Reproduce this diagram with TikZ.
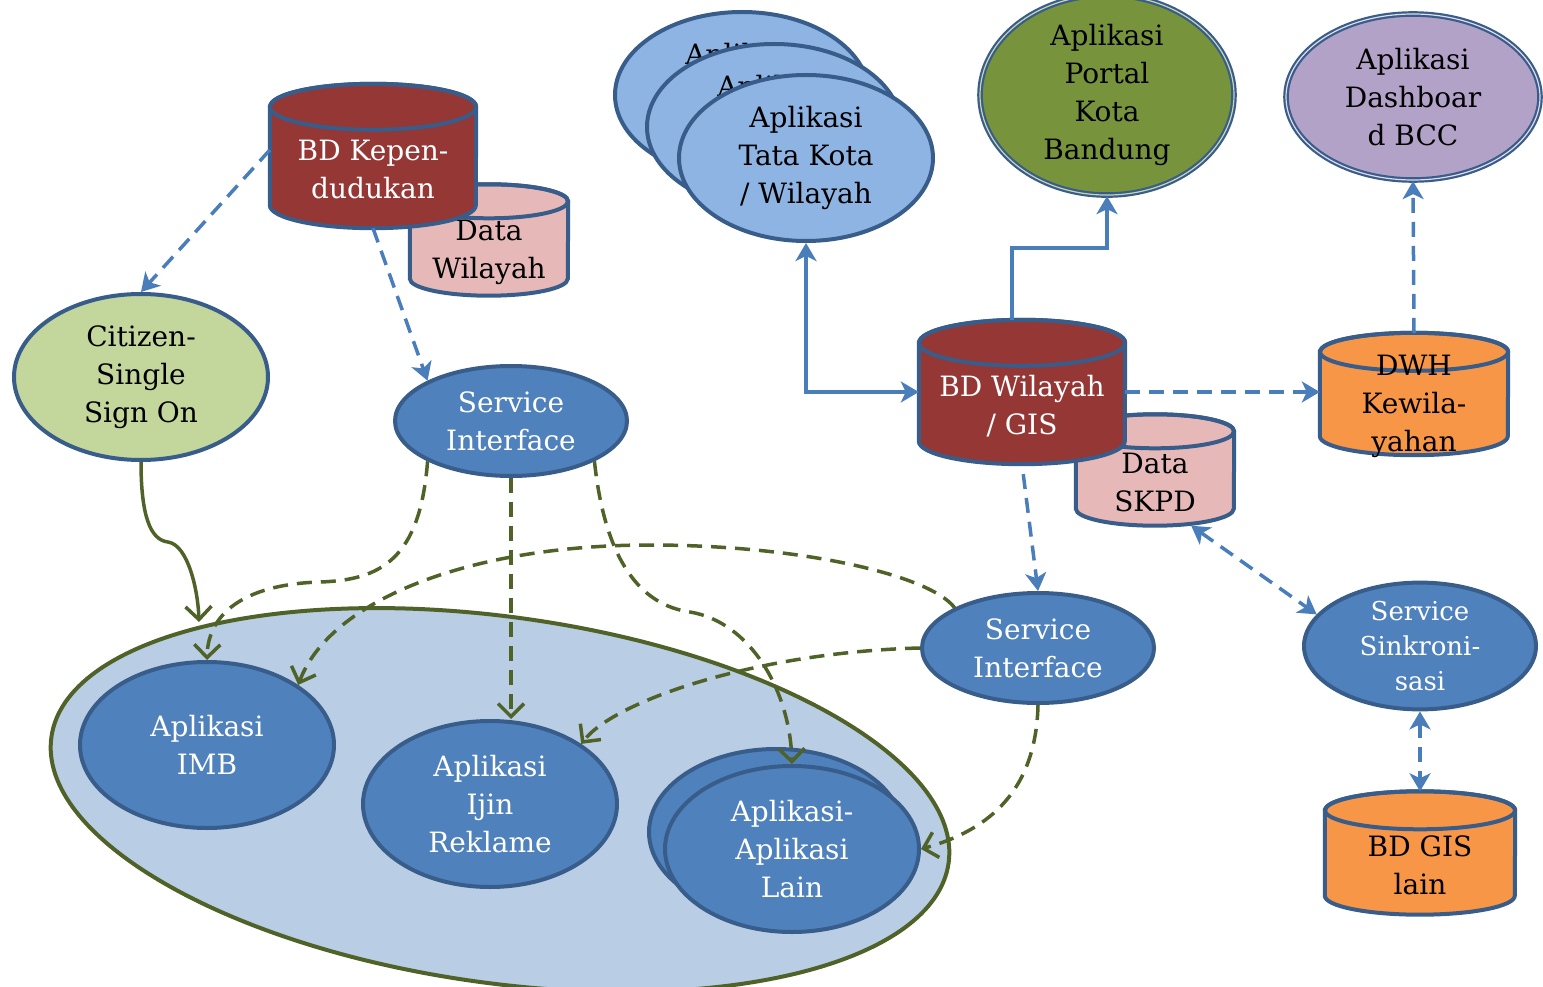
\documentclass[tikz,border=0pt]{standalone}
\usepackage{fontspec}
\setmainfont{DejaVu Serif}
\usetikzlibrary{shapes.geometric, arrows.meta, positioning, calc}
\definecolor{bdline}{HTML}{385D8A}
\definecolor{svcblue}{HTML}{4F81BD}
\definecolor{appblue}{HTML}{8EB4E3}
\definecolor{dbred}{HTML}{953735}
\definecolor{datapink}{HTML}{E6B9B8}
\definecolor{ssogreen}{HTML}{C3D69B}
\definecolor{portalgreen}{HTML}{77933C}
\definecolor{dashpurple}{HTML}{B3A2C7}
\definecolor{dwhorange}{HTML}{F79646}
\definecolor{grpfill}{HTML}{B9CDE5}
\definecolor{grpline}{HTML}{4F6228}
\definecolor{linkblue}{HTML}{4A7EBB}

% cylinder drawn on a named box: name, x radius, cap radius, fill
\newcommand{\dbcyl}[4]{%
  \draw[draw=bdline, line width=4pt, fill=#4] ($(#1.north west)+(0,#3)$) -- ($(#1.south west)+(0,-#3)$)
    arc[start angle=180, end angle=0, x radius=#2, y radius=#3] -- ($(#1.north east)+(0,#3)$)
    arc[start angle=0, end angle=-180, x radius=#2, y radius=#3] -- cycle;
  \draw[draw=bdline, line width=4pt] ($(#1.north)+(0,#3)$) ellipse[x radius=#2, y radius=#3];
}

\begin{document}
\begin{tikzpicture}[
    x=1pt, y=-1pt,
    every node/.style={font=\fontsize{28}{38}\selectfont, align=center, inner sep=0pt},
    app/.style={ellipse, draw=bdline, line width=4pt, fill=svcblue, text=white, minimum width=254, minimum height=166},
    svc/.style={app, minimum width=232, minimum height=110},
    dbbox/.style={rectangle, minimum width=206, minimum height=144},
    tip/.style={},
    arrow/.style={-{Stealth[length=18pt, width=21pt, inset=5pt]}, line width=3.5pt, color=linkblue},
    both/.style={{Stealth[length=18pt, width=21pt, inset=5pt]}-{Stealth[length=18pt, width=21pt, inset=5pt]}},
    darrow/.style={arrow, dash pattern=on 15pt off 9pt},
    gbarb/.style={-{Straight Barb[length=13pt, width=26pt]}, line width=3.5pt, color=grpline, dash pattern=on 15pt off 9pt}
]
\useasboundingbox (0,0) rectangle (1543,987);

% Group of applications
\node[ellipse, draw=grpline, fill=grpfill, line width=4pt, minimum width=906, minimum height=366, rotate=-8] (grp) at (500,800) {};

% Aplikasi Tata Kota (stack)
\node[app, fill=appblue, text=black] (tata3) at (742,95) {Aplikasi\\Tata Kota\\/ Wilayah};
\node[app, fill=appblue, text=black] (tata2) at (774,127) {Aplikasi\\Tata Kota\\/ Wilayah};
\node[app, fill=appblue, text=black] (tata) at (806,158) {Aplikasi\\Tata Kota\\/ Wilayah};

% Portal and dashboard
\node[app, fill=portalgreen, text=black, line width=2.2pt, double=portalgreen!40!white, double distance=1.2pt] (portal) at (1107,95) {Aplikasi\\Portal\\Kota\\Bandung};
\node[app, fill=dashpurple, text=black, line width=2.2pt, double=dashpurple!40!white, double distance=1.2pt] (dash) at (1413,97) {Aplikasi\\Dashboar\\d BCC};

% Databases
\node[dbbox, minimum width=158, minimum height=111] (wil) at (489,240) {};
\dbcyl{wil}{79}{17}{datapink}
\node (wilt) at (489,252) {Data\\Wilayah};
\node[dbbox] (kep) at (373,156) {};
\dbcyl{kep}{103}{23}{dbred}
\node[text=white] (kept) at (373,169) {BD Kepen-\\dudukan};
\node[dbbox, minimum width=158, minimum height=111] (skpd) at (1155,470) {};
\dbcyl{skpd}{79}{17}{datapink}
\node (skpdt) at (1155,482) {Data\\SKPD};
\node[dbbox] (gis) at (1022,392) {};
\dbcyl{gis}{103}{23}{dbred}
\node[text=white] (gist) at (1022,406) {BD Wilayah\\/ GIS};
\node[dbbox, minimum width=188, minimum height=122] (dwh) at (1414,394) {};
\dbcyl{dwh}{94}{19}{dwhorange}
\node (dwht) at (1414,406) {DWH\\Kewila-\\yahan};
\node[dbbox, minimum width=190, minimum height=123] (gislain) at (1420,853) {};
\dbcyl{gislain}{95}{19}{dwhorange}
\node (gislaint) at (1420,865) {BD GIS\\lain};

% Services
\node[app, fill=ssogreen, text=black] (sso) at (141,377) {Citizen-\\Single\\Sign On};
\node[svc] (svc1) at (511,421) {Service\\Interface};
\node[svc] (svc2) at (1038,648) {Service\\Interface};
\node[svc, font=\fontsize{26}{35}\selectfont] (sync) at (1420,646) {Service\\Sinkroni-\\sasi};

% Applications in the group
\node[app] (imb) at (207,745) {Aplikasi\\IMB};
\node[app] (reklame) at (490,804) {Aplikasi\\Ijin\\Reklame};
\node[app] (lain2) at (776,832) {};
\node[app] (lain) at (792,849) {Aplikasi-\\Aplikasi\\Lain};

\coordinate (grpin) at (199,622);

% Blue connectors
\draw[darrow] ([yshift=6pt]kep.west) -- (sso.north);
\draw[darrow] (kep.south) -- (svc1.north west);
\draw[arrow, both] (tata.south) |- (gis.west);
\draw[arrow] ([xshift=-10pt]gis.north) -- ++(0,-72) -| (portal.south);
\draw[darrow] (gis.east) -- (gis.east -| dwh.west);
\draw[darrow] (dwh.north) -- (dash.south);
\draw[darrow, shorten <=10pt] (gis.south) -- (svc2.north);
\draw[darrow, both] (skpd.-57) -- (sync.163);
\draw[darrow, both] (sync.south) -- (gislain.north);

% Green connectors
\draw[gbarb, dash pattern=] (sso.south) .. controls (141,515) and (150,540) .. (168,542) .. controls (188,545) and (198,590) .. (grpin);
\draw[gbarb] (svc1.south west) .. controls (420,560) and (380,580) .. (320,582) .. controls (250,584) and (208,610) .. (imb.north);
\draw[gbarb] (svc1.south) -- (svc1.south |- reklame.north);
\draw[gbarb] (svc1.south east) .. controls (605,560) and (640,605) .. (690,612) .. controls (750,622) and (790,690) .. (lain.north);
\draw[gbarb] (svc2.west) .. controls (760,652) and (615,700) .. (reklame.north east);
\draw[gbarb] (svc2.north west) .. controls (930,575) and (800,545) .. (650,545) .. controls (470,545) and (330,600) .. (imb.north east);
\draw[gbarb] (svc2.south) .. controls (1036,790) and (990,830) .. (lain.east);

\end{tikzpicture}
\end{document}
